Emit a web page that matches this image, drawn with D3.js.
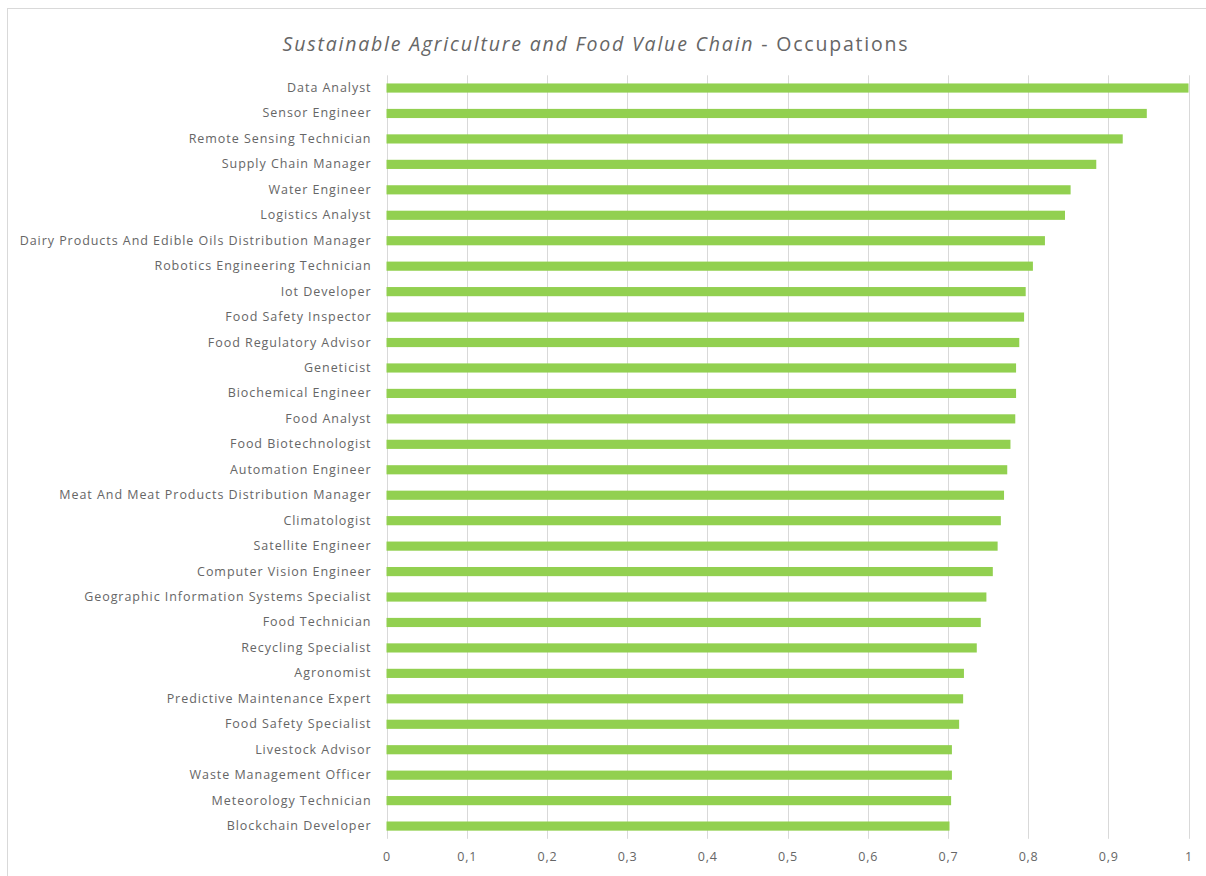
<!DOCTYPE html>
<html>
<head>
<meta charset="utf-8">
<script src="https://cdn.jsdelivr.net/npm/d3@7"></script>
<style>
  html, body { margin: 0; padding: 0; background: #ffffff; }
  svg { display: block; }
</style>
</head>
<body>
<svg id="chart" width="1206" height="876"></svg>
<script>
// Occupations, ordered from highest to lowest score
const occupations = [
  "Data Analyst",
  "Sensor Engineer",
  "Remote Sensing Technician",
  "Supply Chain Manager",
  "Water Engineer",
  "Logistics Analyst",
  "Dairy Products And Edible Oils Distribution Manager",
  "Robotics Engineering Technician",
  "Iot Developer",
  "Food Safety Inspector",
  "Food Regulatory Advisor",
  "Geneticist",
  "Biochemical Engineer",
  "Food Analyst",
  "Food Biotechnologist",
  "Automation Engineer",
  "Meat And Meat Products Distribution Manager",
  "Climatologist",
  "Satellite Engineer",
  "Computer Vision Engineer",
  "Geographic Information Systems Specialist",
  "Food Technician",
  "Recycling Specialist",
  "Agronomist",
  "Predictive Maintenance Expert",
  "Food Safety Specialist",
  "Livestock Advisor",
  "Waste Management Officer",
  "Meteorology Technician",
  "Blockchain Developer"
];

const scores = [
  1.000, 0.948, 0.918, 0.885, 0.853, 0.846, 0.821, 0.806, 0.797, 0.795,
  0.789, 0.785, 0.785, 0.784, 0.778, 0.774, 0.770, 0.766, 0.762, 0.756,
  0.748, 0.741, 0.736, 0.720, 0.719, 0.714, 0.705, 0.705, 0.704, 0.702
];

const xTicks = [0, 0.1, 0.2, 0.3, 0.4, 0.5, 0.6, 0.7, 0.8, 0.9, 1];
const xTickLabels = ["0", "0,1", "0,2", "0,3", "0,4", "0,5", "0,6", "0,7", "0,8", "0,9", "1"];

const titleItalic = "Sustainable Agriculture and Food Value Chain";
const titleRest = " - Occupations";

const data = occupations.map((name, i) => ({ name, value: scores[i] }));

const svg = d3.select("#chart");
const font = "'Open Sans', 'Noto Sans', sans-serif";
const textColor = "#666666";
const gridColor = "#d9d9d9";
const barColor = "#92d050";

// Chart frame
svg.append("rect")
  .attr("x", 7.5).attr("y", 8.5)
  .attr("width", 1206).attr("height", 900)
  .attr("fill", "#ffffff")
  .attr("stroke", "#d9d9d9")
  .attr("stroke-width", 1);

const plot = { left: 386.5, right: 1188.5, top: 75.3, bottom: 838.8 };

const x = d3.scaleLinear().domain([0, 1]).range([plot.left, plot.right]);
const y = d3.scaleBand()
  .domain(occupations)
  .range([plot.top, plot.bottom])
  .paddingInner(0.64)
  .paddingOuter(0.32);

// Vertical gridlines
svg.append("g")
  .selectAll("line")
  .data(xTicks)
  .join("line")
  .attr("x1", d => Math.round(x(d)) + 0.5)
  .attr("x2", d => Math.round(x(d)) + 0.5)
  .attr("y1", plot.top)
  .attr("y2", plot.bottom)
  .attr("stroke", gridColor)
  .attr("stroke-width", 1);

// Bars
svg.append("g")
  .selectAll("rect")
  .data(data)
  .join("rect")
  .attr("x", x(0))
  .attr("y", d => y(d.name))
  .attr("width", d => x(d.value) - x(0))
  .attr("height", y.bandwidth())
  .attr("fill", barColor);

// Category axis
const yAxis = svg.append("g")
  .attr("transform", `translate(${plot.left},0)`)
  .call(d3.axisLeft(y).tickSize(0).tickPadding(15));
yAxis.select(".domain").remove();
yAxis.selectAll("text")
  .attr("fill", textColor)
  .style("font-family", font)
  .style("font-size", "12.5px")
  .style("letter-spacing", "0.95px");

// Value axis
const xAxis = svg.append("g")
  .attr("transform", `translate(0,${plot.bottom})`)
  .call(d3.axisBottom(x).tickValues(xTicks).tickFormat((d, i) => xTickLabels[i]).tickSize(0).tickPadding(13));
xAxis.select(".domain").remove();
xAxis.selectAll("text")
  .attr("fill", textColor)
  .style("font-family", font)
  .style("font-size", "12.5px")
  .style("letter-spacing", "0.8px");

// Title
const title = svg.append("text")
  .attr("x", 596)
  .attr("y", 51)
  .attr("text-anchor", "middle")
  .attr("fill", textColor)
  .style("font-family", font)
  .style("font-size", "19.5px")
  .style("letter-spacing", "1.8px");
title.append("tspan").style("font-style", "italic").text(titleItalic);
title.append("tspan").text(titleRest);
</script>
</body>
</html>
